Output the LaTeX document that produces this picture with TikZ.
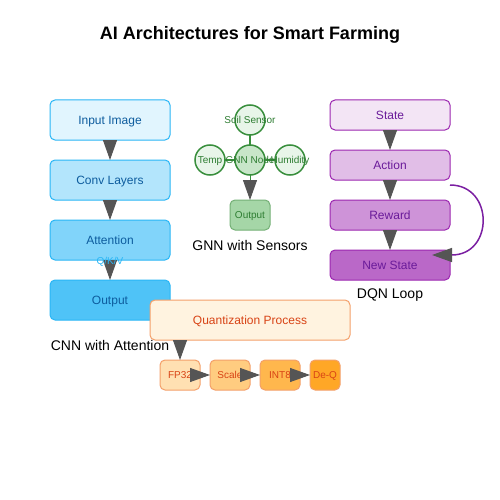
\documentclass[tikz,border=0pt]{standalone}
\usepackage{fontspec}
\setmainfont{Liberation Sans}
\usetikzlibrary{arrows.meta}
\definecolor{headgray}{HTML}{555555}
\definecolor{cnnline}{HTML}{29B6F6}
\definecolor{cnntext}{HTML}{0D5C9E}
\definecolor{cnnA}{HTML}{E1F5FE}
\definecolor{cnnB}{HTML}{B3E5FC}
\definecolor{cnnC}{HTML}{81D4FA}
\definecolor{cnnD}{HTML}{4FC3F7}
\definecolor{gnnline}{HTML}{388E3C}
\definecolor{gnntext}{HTML}{2E7D32}
\definecolor{gnnA}{HTML}{E8F5E9}
\definecolor{gnnB}{HTML}{C8E6C9}
\definecolor{gnnC}{HTML}{A5D6A7}
\definecolor{dqnline}{HTML}{9C27B0}
\definecolor{dqntext}{HTML}{6A1B9A}
\definecolor{dqnA}{HTML}{F3E5F5}
\definecolor{dqnB}{HTML}{E1BEE7}
\definecolor{dqnC}{HTML}{CE93D8}
\definecolor{dqnD}{HTML}{BA68C8}
\definecolor{loopline}{HTML}{7B1FA2}
\definecolor{qline}{HTML}{F4A06A}
\definecolor{qtext}{HTML}{D84315}
\definecolor{qA}{HTML}{FFF3E0}
\definecolor{qB}{HTML}{FFE0B2}
\definecolor{qC}{HTML}{FFCC80}
\definecolor{qD}{HTML}{FFB74D}
\definecolor{qE}{HTML}{FFA726}
\tikzset{
	big/.style={font=\fontsize{12}{14}\selectfont,text height=9pt,text depth=0pt},
	small/.style={font=\fontsize{10}{12}\selectfont,text height=7pt,text depth=0pt},
	box/.style 2 args={rectangle,rounded corners=5pt,draw=#1,fill=#2,line width=1pt,inner sep=0pt,outer sep=0pt,big},
	cbox/.style={box={cnnline}{#1},minimum width=120pt,minimum height=40pt,text=cnntext},
	pbox/.style={box={dqnline}{#1},minimum width=120pt,minimum height=30pt,text=dqntext},
	qbox/.style={box={qline}{#1},minimum width=40pt,minimum height=30pt,text=qtext,small},
	gdot/.style 2 args={circle,draw=gnnline,fill=#1,line width=1.5pt,minimum size=30pt,inner sep=0pt,outer sep=0pt,label={[text=gnntext,small,inner sep=0pt]center:#2}},
	arr/.style={draw=#1,line width=1pt,-{Triangle[length=20pt,width=14pt,color=headgray]}},
	caption/.style={font=\fontsize{14}{16}\selectfont}
}
\begin{document}
\begin{tikzpicture}[x=1pt,y=-1pt]
	\useasboundingbox [fill=white] (0,0) rectangle (500,500);
	\node [font=\bfseries\fontsize{18}{20}\selectfont] (title) at (250,35) {AI Architectures for Smart Farming};

	% CNN
	\node [cbox=cnnA] (input) at (110,120) {Input Image};
	\node [cbox=cnnB] (conv) at (110,180) {Conv Layers};
	\node [cbox=cnnC] (att) at (110,240) {Attention};
	\node [cbox=cnnD] (cout) at (110,300) {Output};
	\draw [arr=cnnline] (input) -- (conv);
	\draw [arr=cnnline] (conv) -- (att);
	\draw [arr=cnnline] (att) -- (cout);
	\node [text=cnnline,small] (qkv) at (110,261) {Q/K/V};

	% GNN
	\draw [gnnline,line width=1.5pt] (250,120) -- (250,160) (210,160) -- (290,160);
	\node [gdot={gnnA}{Soil Sensor}] (soil) at (250,120) {};
	\node [gdot={gnnA}{Temp}] (temp) at (210,160) {};
	\node [gdot={gnnB}{GNN Node}] (gnn) at (250,160) {};
	\node [gdot={gnnA}{Humidity}] (hum) at (290,160) {};
	\node [box={gnnline!70}{gnnC},minimum width=40pt,minimum height=30pt,text=gnntext,small] (gout) at (250,215) {Output};
	\draw [arr=gnnline] (gnn) -- (gout);

	% DQN
	\node [pbox=dqnA] (state) at (390,115) {State};
	\node [pbox=dqnB] (action) at (390,165) {Action};
	\node [pbox=dqnC] (reward) at (390,215) {Reward};
	\node [pbox=dqnD] (newstate) at (390,265) {New State};
	\draw [arr=dqnline] (state) -- (action);
	\draw [arr=dqnline] (action) -- (reward);
	\draw [arr=dqnline] (reward) -- (newstate);
	\coordinate (loopstart) at (450,185);
	\coordinate (loopend) at (432,255);
	\draw [arr=loopline,line width=1.5pt] (loopstart) .. controls (494,185) and (494,255) .. (loopend);

	% captions
	\node [caption] (cnncap) at (110,345) {CNN with Attention};
	\node [caption] (gnncap) at (250,245) {GNN with Sensors};
	\node [caption] (dqncap) at (390,295) {DQN Loop};

	% quantization
	\node [box={qline}{qA},minimum width=200pt,minimum height=40pt,text=qtext] (quant) at (250,320) {Quantization Process};
	\node [qbox=qB] (fp) at (180,375) {FP32};
	\node [qbox=qC] (scale) at (230,375) {Scale};
	\node [qbox=qD] (int) at (280,375) {INT8};
	\node [qbox=qE,minimum width=30pt] (deq) at (325,375) {De-Q};
	\draw [arr=qline] (quant.south -| fp.north) -- (fp);
	\draw [arr=qline] (fp) -- (scale);
	\draw [arr=qline] (scale) -- (int);
	\draw [arr=qline] (int) -- (deq);
\end{tikzpicture}
\end{document}
